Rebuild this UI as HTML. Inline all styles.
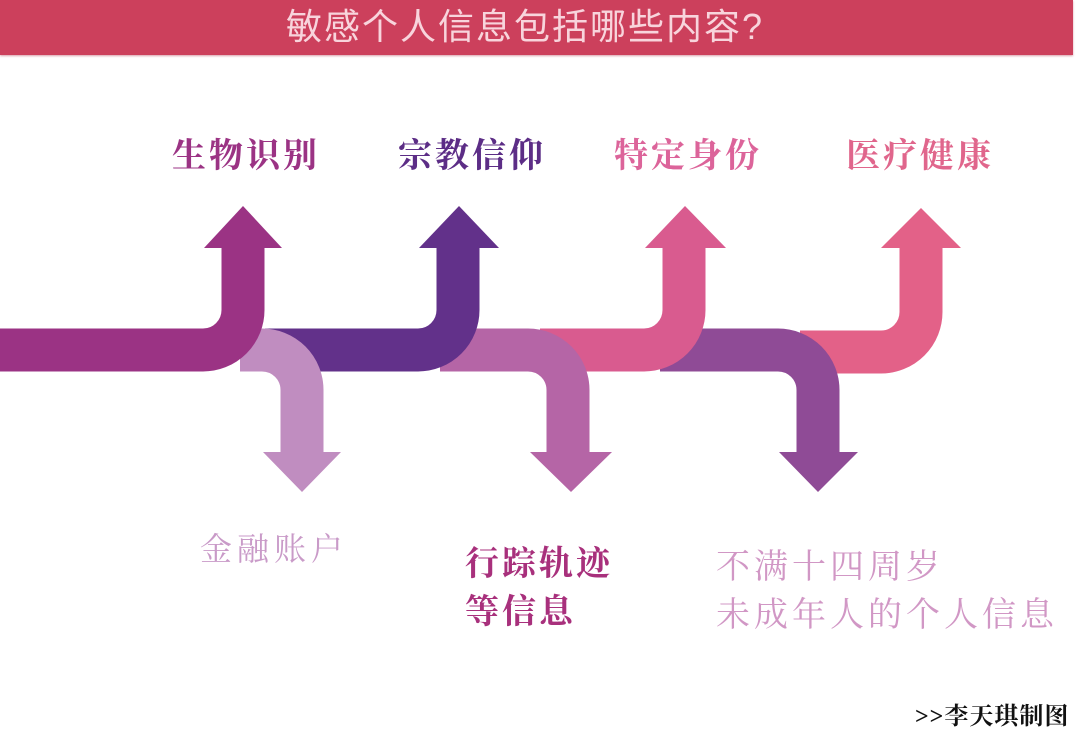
<!DOCTYPE html>
<html><head><meta charset="utf-8"><style>
html,body{margin:0;padding:0;background:#fff;width:1080px;height:750px;overflow:hidden;position:relative}
.hdr{position:absolute;left:0;top:0;width:1073px;height:55px;background:#cc405c;box-shadow:0 1px 2px #d9a0aa}
.t{position:absolute;white-space:nowrap;line-height:1;font-family:"Liberation Serif","Noto Serif CJK SC",serif;font-weight:bold}
.ht{position:absolute;left:286px;top:9px;font-family:"Liberation Sans","Noto Sans CJK SC",sans-serif;font-size:36px;color:#f8d4dc;line-height:1;white-space:nowrap;letter-spacing:2px}
svg{position:absolute;left:0;top:0}
</style></head><body>
<div class="hdr"></div>
<div class="ht">敏感个人信息包括哪些内容?</div>
<svg width="1080" height="750" viewBox="0 0 1080 750">
<g fill="none" stroke-width="43">
<path d="M800 352 H881 A40 40 0 0 0 921 312 V246" stroke="#e36188"/>
<polygon points="881,248 961,248 921,208" fill="#e36188"/>
<path d="M660 350 H778 A40 40 0 0 1 818 390 V453" stroke="#8f4b96"/>
<polygon points="779,452 858,452 818,492" fill="#8f4b96"/>
<path d="M540 350 H644 A40 40 0 0 0 684 310 V246" stroke="#d95b8f"/>
<polygon points="645,248 726,248 685,206" fill="#d95b8f"/>
<path d="M440 350 H528 A40 40 0 0 1 568 390 V453" stroke="#b565a6"/>
<polygon points="530,452 612,452 571,492" fill="#b565a6"/>
<path d="M265 350 H418 A40 40 0 0 0 458 310 V246" stroke="#62318a"/>
<polygon points="419,248 499,248 459,206" fill="#62318a"/>
<path d="M240 350 H262 A40 40 0 0 1 302 390 V453" stroke="#c08dc0"/>
<polygon points="263,452 341,452 302,492" fill="#c08dc0"/>
<path d="M0 350 H203 A40 40 0 0 0 243 310 V246" stroke="#9b3384"/>
<polygon points="204,248 282,248 243,206" fill="#9b3384"/>
</g>
</svg>
<div class="t" style="left:172px;top:140px;font-size:34px;letter-spacing:3px;color:#9b3384">生物识别</div>
<div class="t" style="left:398px;top:140px;font-size:34px;letter-spacing:3px;color:#5c2d86">宗教信仰</div>
<div class="t" style="left:614px;top:140px;font-size:34px;letter-spacing:3px;color:#dc649a">特定身份</div>
<div class="t" style="left:846px;top:140px;font-size:34px;letter-spacing:3px;color:#e0668c">医疗健康</div>
<div class="t" style="left:200px;top:533px;font-size:32px;letter-spacing:5px;color:#c99ac8;font-weight:normal">金融账户</div>
<div class="t" style="left:465px;top:541px;font-size:34px;letter-spacing:3px;color:#a8307c;line-height:48px">行踪轨迹<br>等信息</div>
<div class="t" style="left:716px;top:544px;font-size:34px;letter-spacing:4px;color:#d197c5;font-weight:normal;line-height:48px">不满十四周岁<br>未成年人的个人信息</div>
<div class="t" style="left:915px;top:705px;font-size:24px;letter-spacing:1px;color:#111">&gt;&gt;李天琪制图</div>
</body></html>
